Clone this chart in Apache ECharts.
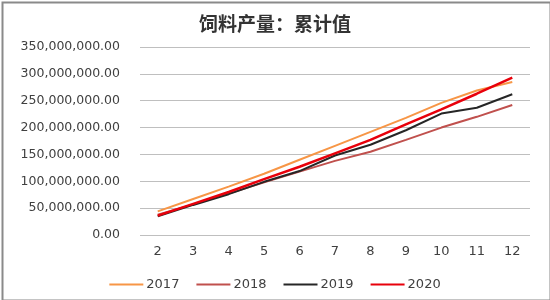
<!DOCTYPE html>
<html>
<head>
<meta charset="utf-8">
<script src="https://cdn.jsdelivr.net/npm/echarts@6/dist/echarts.min.js"></script>
<style>
html,body{margin:0;padding:0;background:#fff;}
#c{width:550px;height:300px;}
</style>
</head>
<body>
<div id="c"></div>
<script>
var months = ['2','3','4','5','6','7','8','9','10','11','12'];
var s2017 = [44, 67, 90, 114, 140, 166, 192, 218, 246, 269, 285];
var s2018 = [38, 57, 77, 98, 118, 138, 155, 177, 200, 220, 242];
var s2019 = [35, 56, 76, 99, 119, 148, 168, 195, 226, 237, 262];
var s2020 = [36, 58, 80, 104, 127, 152, 177, 206, 234, 263, 293];
var yTicks = [0, 50, 100, 150, 200, 250, 300, 350];
var seriesNames = ['2017', '2018', '2019', '2020'];

function toUnits(a){ return a.map(function(v){ return v * 1e6; }); }
function fmt(v){
  return Number(v).toLocaleString('en-US', {minimumFractionDigits:2, maximumFractionDigits:2});
}

var colors = ['#F79646', '#C0504D', '#262626', '#E8000B'];
var data = [s2017, s2018, s2019, s2020];

var chart = echarts.init(document.getElementById('c'), null, {renderer:'canvas'});
chart.setOption({
  animation: false,
  backgroundColor: '#fff',
  title: {
    text: '饲料产量：累计值',
    left: 'center',
    top: 9,
    textStyle: {fontFamily: 'Noto Sans CJK SC', fontSize: 19, fontWeight: 'bold', color: '#333'}
  },
  graphic: [{
    type: 'rect', left: 0, top: 0, silent: true,
    shape: {x: 1, y: 1, width: 548, height: 298},
    style: {fill: 'none', stroke: '#8a8a8a', lineWidth: 2}
  }],
  legend: {
    data: seriesNames,
    left: 'center',
    top: 273,
    icon: 'rect',
    itemWidth: 34,
    itemHeight: 2,
    itemGap: 17,
    textStyle: {fontFamily: 'DejaVu Sans', fontSize: 13, color: '#404040', padding: [0,0,0,-2]}
  },
  grid: {left: 140, right: 20, top: 47, bottom: 65},
  xAxis: {
    type: 'category',
    data: months,
    boundaryGap: true,
    axisLine: {show: false},
    axisTick: {show: false},
    axisLabel: {fontFamily: 'DejaVu Sans', fontSize: 13, color: '#404040', margin: 10}
  },
  yAxis: {
    type: 'value',
    min: yTicks[0] * 1e6,
    max: yTicks[yTicks.length-1] * 1e6,
    interval: 50e6,
    axisLine: {show: false},
    axisTick: {show: false},
    splitLine: {lineStyle: {color: '#bfbfbf', width: 1}},
    axisLabel: {fontFamily: 'DejaVu Sans', fontSize: 12.5, color: '#404040', margin: 20, formatter: fmt}
  },
  series: seriesNames.map(function(n, i){
    return {
      name: n, type: 'line', data: toUnits(data[i]),
      symbol: 'none', smooth: false,
      itemStyle: {color: colors[i]},
      lineStyle: {color: colors[i], width: i === 3 ? 2.5 : 2}
    };
  })
});
</script>
</body>
</html>
